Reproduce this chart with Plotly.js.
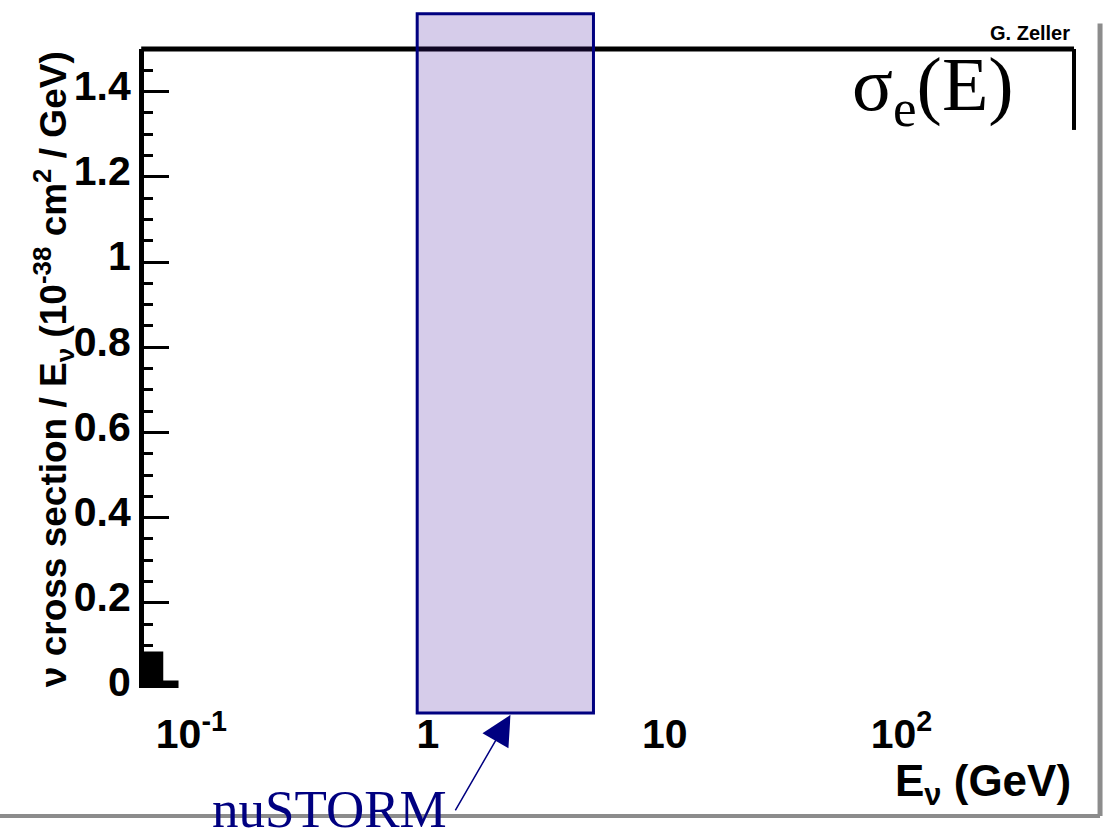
<!DOCTYPE html>
<html>
<head>
<meta charset="utf-8">
<script src="https://cdn.plot.ly/plotly-3.0.1.min.js"></script>
<style>html,body{margin:0;padding:0;background:#fff;}#chart{width:1104px;height:831px;}</style>
</head>
<body>
<div id="chart"></div>
<script>
// ---- data ----
const xRangeGeV = [0.0631, 536];           // visible energy range (GeV)
const yRange = [0, 1.5];                    // cross section / E range
const yTickVals = [0, 0.2, 0.4, 0.6, 0.8, 1.0, 1.2, 1.4];
const yTickText = ['0', '0.2', '0.4', '0.6', '0.8', '1', '1.2', '1.4'];
const xTickVals = [0.1, 1, 10, 100];
const xTickText = ['10<sup>-1</sup>', '1', '10', '10<sup>2</sup>'];
const histEdges = [0.05, 0.075, 0.087];     // GeV
const histValues = [0.082, 0.014];
const nuStormRange = [0.9, 5.0];            // GeV
const arrowTipE = 2.23;                     // GeV

// build histogram step outline from edges / values
const hx = [], hy = [];
hx.push(histEdges[0]); hy.push(0);
for (let i = 0; i < histValues.length; i++) {
  hx.push(histEdges[i]); hy.push(histValues[i]);
  hx.push(histEdges[i + 1]); hy.push(histValues[i]);
}
hx.push(histEdges[histEdges.length - 1]); hy.push(0);

const traces = [{
  type: 'scatter', mode: 'lines', x: hx, y: hy,
  fill: 'toself', fillcolor: '#000', line: {color: '#000', width: 3},
  hoverinfo: 'skip', showlegend: false
}];

const sans = 'Liberation Sans, Arial, sans-serif';
const serif = 'Liberation Serif, Times New Roman, serif';

const layout = {
  width: 1104, height: 831,
  margin: {l: 144, r: 30, t: 49, b: 143, pad: 0},
  paper_bgcolor: '#fff', plot_bgcolor: '#fff',
  showlegend: false,
  xaxis: {
    type: 'log', range: xRangeGeV.map(Math.log10),
    showgrid: false, zeroline: false, showline: false, ticks: '',
    tickmode: 'array', tickvals: xTickVals, ticktext: xTickText,
    tickfont: {family: sans, size: 41, color: '#000', weight: 'bold'},
    ticklabelstandoff: 18
  },
  yaxis: {
    range: yRange, showgrid: false, zeroline: false,
    showline: true, linewidth: 5, linecolor: '#000',
    ticks: 'inside', ticklen: 25, tickwidth: 3, tickcolor: '#000',
    tickmode: 'array', tickvals: yTickVals, ticktext: yTickText,
    tickfont: {family: sans, size: 41, color: '#000', weight: 'bold'},
    ticklabelshift: -6,
    minor: {dtick: 0.05, ticks: 'inside', ticklen: 9, tickwidth: 3, tickcolor: '#000', showgrid: false}
  },
  shapes: [
    // top frame line
    {type: 'line', xref: 'paper', yref: 'paper', x0: -0.003, x1: 1, y0: 1, y1: 1, line: {color: '#000', width: 5}},
    // partial right frame line
    {type: 'line', xref: 'paper', yref: 'y', x0: 1, x1: 1, y0: 1.5, y1: 1.31, line: {color: '#000', width: 4}},
    // nuSTORM energy band
    {type: 'rect', xref: 'x', yref: 'paper', x0: nuStormRange[0], x1: nuStormRange[1], y0: -0.039, y1: 1.055,
     fillcolor: 'rgba(68,23,160,0.22)', line: {color: '#000080', width: 3}},
    // picture frame (gray)
    {type: 'line', xref: 'paper', yref: 'paper', x0: -0.16, x1: 1.028, y0: -0.2003, y1: -0.2003, line: {color: '#8c8c8c', width: 4}},
    {type: 'line', xref: 'paper', yref: 'paper', x0: 1.028, x1: 1.028, y0: -0.2003, y1: 1.04, line: {color: '#8c8c8c', width: 5}}
  ],
  annotations: [
    {xref: 'paper', yref: 'paper', x: -0.0978, y: 0.499, xanchor: 'center', yanchor: 'middle', textangle: -90, showarrow: false,
     text: 'ν cross section / E<sub>ν</sub> (10<sup>-38</sup> cm<sup>2</sup> / GeV)',
     font: {family: sans, size: 37, color: '#000', weight: 'bold'}},
    {xref: 'paper', yref: 'paper', x: 0.999, y: -0.15, xanchor: 'right', yanchor: 'middle', showarrow: false,
     text: 'E<sub>ν</sub> (GeV)', font: {family: sans, size: 44, color: '#000', weight: 'bold'}},
    {xref: 'paper', yref: 'paper', x: 0.759, y: 0.936, xanchor: 'left', yanchor: 'middle', showarrow: false,
     text: 'σ<sub>e</sub>(E)', font: {family: serif, size: 76, color: '#000'}},
    {xref: 'paper', yref: 'paper', x: 0.998, y: 1.025, xanchor: 'right', yanchor: 'middle', showarrow: false,
     text: 'G. Zeller', font: {family: sans, size: 20, color: '#000', weight: 'bold'}},
    {xref: 'paper', yref: 'paper', x: 0.071, y: -0.19, xanchor: 'left', yanchor: 'middle', showarrow: false,
     text: 'nuSTORM', font: {family: serif, size: 53, color: '#000080'}},
    {xref: 'x', yref: 'paper', x: Math.log10(arrowTipE), y: -0.042, text: '', showarrow: true,
     axref: 'pixel', ayref: 'pixel', ax: -56, ay: 97,
     arrowhead: 2, arrowsize: 4, arrowwidth: 1.5, arrowcolor: '#000080'}
  ]
};

Plotly.newPlot('chart', traces, layout, {displayModeBar: false, staticPlot: true});
</script>
</body>
</html>
